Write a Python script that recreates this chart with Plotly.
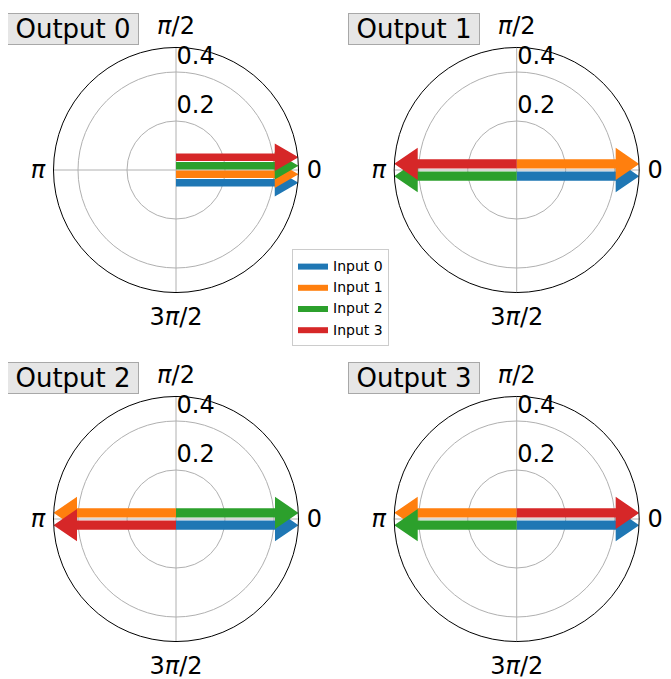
import numpy as np
import plotly.graph_objects as go

# ---------------- data ----------------
OUTPUTS = ["Output 0", "Output 1", "Output 2", "Output 3"]
INPUTS = ["Input 0", "Input 1", "Input 2", "Input 3"]
# magnitude of each input's contribution to each output
MAGNITUDES = [
    [0.5, 0.5, 0.5, 0.5],
    [0.5, 0.5, 0.5, 0.5],
    [0.5, 0.5, 0.5, 0.5],
    [0.5, 0.5, 0.5, 0.5],
]
# phase of each contribution, in units of pi
PHASES_PI = [
    [0, 0, 0, 0],
    [0, 0, 1, 1],
    [0, 1, 0, 1],
    [0, 1, 1, 0],
]
# stacking slot (bottom = 0) among arrows sharing the same direction
SLOTS = [
    [0, 1, 2, 3],
    [0, 1, 0, 1],
    [0, 1, 1, 0],
    [0, 1, 0, 1],
]
ANGLE_TICKVALS = [0, 90, 180, 270]
ANGLE_TICKTEXT = ["0", "<i>π</i>/2", "<i>π</i>", "3<i>π</i>/2"]
RADIAL_TICKVALS = [0.2, 0.4]
RADIAL_TICKTEXT = ["0.2", "0.4"]

# ---------------- style ----------------
COLORS = ["#1f77b4", "#ff7f0e", "#2ca02c", "#d62728"]
ARROW_STYLE = {  # by number of arrows sharing a direction (data units)
    4: dict(spacing=0.0347, width=0.0306, head_width=0.112, head_len=0.097),
    2: dict(spacing=0.050, width=0.038, head_width=0.132, head_len=0.096),
    1: dict(spacing=0.050, width=0.038, head_width=0.132, head_len=0.096),
    3: dict(spacing=0.040, width=0.034, head_width=0.12, head_len=0.096),
}
FONT = "DejaVu Sans"
PAGE_OFFSET = 8  # default body margin of the html page
W, H = 671 - PAGE_OFFSET, 679 - PAGE_OFFSET
CENTERS = [(176, 170), (516.7, 170), (176, 519), (516.7, 519)]  # page px
RADIUS_PX = 122.5


def arrow_polygon(mag, phase, offset, st):
    u = np.array([np.cos(phase), np.sin(phase)])
    n = np.array([-np.sin(phase), np.cos(phase)])
    if n[1] < 0:
        n = -n
    o = n * offset
    hb = mag - st["head_len"]
    w2 = st["width"] / 2
    h2 = st["head_width"] / 2
    pts = np.array([
        o + w2 * n,
        o + hb * u + w2 * n,
        o + hb * u + h2 * n,
        o + mag * u,
        o + hb * u - h2 * n,
        o + hb * u - w2 * n,
        o - w2 * n,
        o + w2 * n,
    ])
    r = np.hypot(pts[:, 0], pts[:, 1])
    th = np.degrees(np.arctan2(pts[:, 1], pts[:, 0]))
    return r, th


fig = go.Figure()

for k, name in enumerate(OUTPUTS):
    sub = "polar" if k == 0 else f"polar{k + 1}"
    phases = [p * np.pi for p in PHASES_PI[k]]
    for i, inp in enumerate(INPUTS):
        group = sum(1 for p in PHASES_PI[k] if p == PHASES_PI[k][i])
        st = ARROW_STYLE[group]
        offset = (SLOTS[k][i] - (group - 1) / 2) * st["spacing"]
        r, th = arrow_polygon(MAGNITUDES[k][i], phases[i], offset, st)
        fig.add_trace(go.Scatterpolar(
            r=r, theta=th, mode="lines", fill="toself",
            fillcolor=COLORS[i], line=dict(width=0, color=COLORS[i]),
            name=inp, legendgroup=inp, showlegend=(k == 0),
            subplot=sub, hoverinfo="name",
        ))

    cx, cy = CENTERS[k]
    cx -= PAGE_OFFSET
    cy -= PAGE_OFFSET
    dom = dict(
        x=[(cx - RADIUS_PX) / W, (cx + RADIUS_PX) / W],
        y=[1 - (cy + RADIUS_PX) / H, 1 - (cy - RADIUS_PX) / H],
    )
    polar = dict(
        domain=dom,
        bgcolor="white",
        radialaxis=dict(
            range=[0, 0.5], tickvals=RADIAL_TICKVALS,
            ticktext=[t + "<br> " for t in RADIAL_TICKTEXT],
            angle=90, tickangle=90, showline=False, ticks="",
            gridcolor="#b0b0b0", gridwidth=1,
            tickfont=dict(size=24, color="black", family=FONT),
        ),
        angularaxis=dict(
            tickvals=ANGLE_TICKVALS, ticktext=ANGLE_TICKTEXT,
            direction="counterclockwise", rotation=0,
            gridcolor="#b0b0b0", gridwidth=1,
            showline=True, linecolor="black", linewidth=1,
            ticks="outside", ticklen=3, tickcolor="rgba(0,0,0,0)",
            tickfont=dict(size=24, color="black", family=FONT),
        ),
    )
    fig.layout[sub] = polar

    bx = cx - 103
    fig.add_annotation(
        x=bx / W, y=1 - (cy - 141.5) / H, xref="paper", yref="paper",
        text=name, showarrow=False, xanchor="center", yanchor="middle",
        font=dict(size=26, color="black", family=FONT),
        bgcolor="#e6e6e6", bordercolor="#a8a8a8", borderwidth=1,
        width=130, height=30, borderpad=0,
    )

fig.update_layout(
    width=W, height=H,
    margin=dict(l=0, r=0, t=0, b=0),
    paper_bgcolor="white",
    font=dict(family=FONT, color="black"),
    legend=dict(
        x=(292 - PAGE_OFFSET) / W, y=1 - (249 - PAGE_OFFSET) / H,
        xanchor="left", yanchor="top",
        bgcolor="white", bordercolor="#cccccc", borderwidth=1,
        font=dict(size=14, family=FONT, color="black"),
        tracegroupgap=0,
    ),
)

fig.write_html("out.html")
